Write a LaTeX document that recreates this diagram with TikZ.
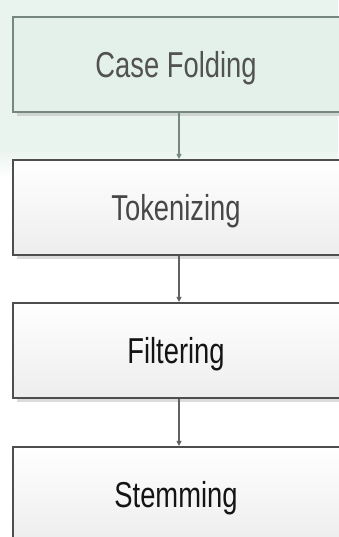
\documentclass[tikz,border=0pt]{standalone}
\usepackage{fontspec}
\usepackage{graphicx}
\setmainfont{Liberation Sans}
\usetikzlibrary{arrows.meta,shadows}
\definecolor{mint}{HTML}{EAF4EF}
\definecolor{mintbox}{HTML}{E4F1EA}
\definecolor{mintline}{HTML}{75877F}
\definecolor{boxline}{HTML}{4E4E4E}
\newcommand{\boxtext}[1]{\scalebox{0.76}[1]{\fontsize{36}{40}\selectfont #1}\kern6pt}
\tikzset{
  procbox/.style={draw=boxline, line width=2.2pt, rectangle, minimum width=332pt,
    minimum height=95pt, inner sep=0pt, text height=26pt, text depth=0pt,
    top color=white, bottom color=black!7,
    drop shadow={shadow xshift=4pt, shadow yshift=-4pt, fill=black!14, opacity=1}},
  greenbox/.style={procbox, draw=mintline, top color=mintbox, bottom color=mintbox,
    drop shadow={shadow xshift=4pt, shadow yshift=-4pt, fill=mintline!35, opacity=1}},
  flow/.style={draw=black!62, line width=1.2pt, -{Triangle[length=5pt,width=5pt]}},
}
\begin{document}
\begin{tikzpicture}[x=1pt,y=-1pt]
\useasboundingbox (0,0) rectangle (338,537);
\fill[white] (0,0) rectangle (338,537);
\fill[mint] (0,0) rectangle (338,150);
\shade[top color=mint, bottom color=white] (0,150) rectangle (338,178);
\node[greenbox, text=black!68] (cf) at (179,64.5) {\boxtext{Case Folding}};
\node[procbox, text=black!72] (tk) at (179,207.5) {\boxtext{Tokenizing}};
\node[procbox, text=black!92] (fl) at (179,350.5) {\boxtext{Filtering}};
\node[procbox, text=black!92] (st) at (179,494.5) {\boxtext{Stemming}};
\draw[flow, draw=mintline] (cf.south) -- (tk.north);
\draw[flow] (tk.south) -- (fl.north);
\draw[flow] (fl.south) -- (st.north);
\end{tikzpicture}
\end{document}
